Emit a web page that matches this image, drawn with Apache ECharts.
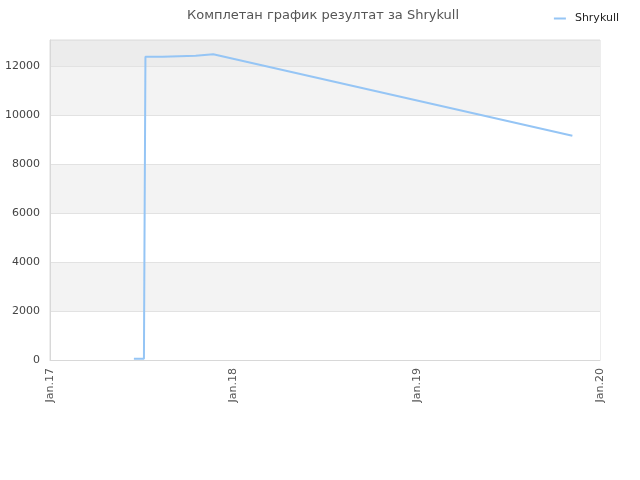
<!DOCTYPE html>
<html><head><meta charset="utf-8">
<script src="https://cdn.jsdelivr.net/npm/echarts@6/dist/echarts.min.js"></script>
<style>html,body{margin:0;padding:0;background:#fff}#c{width:640px;height:480px}</style>
</head><body><div id="c"></div>
<script>
const seriesName = 'Shrykull';
const dates = ['2017-06-17','2017-07-07','2017-07-08','2017-07-09','2017-07-10','2017-08-13','2017-08-14','2017-10-18','2017-10-19','2017-11-22','2019-11-07'];
const values = [50, 50, 4250, 4250, 12380, 12380, 12420, 12420, 12460, 12480, 9155];
const xTicks = ['2017-01-01','2018-01-01','2019-01-01','2020-01-01'];
const xTickLabels = ['Jan.17','Jan.18','Jan.19','Jan.20'];
const yTicks = [0,2000,4000,6000,8000,10000,12000];

const toT = d => new Date(d + 'T00:00:00Z').getTime();
const tickTimes = xTicks.map(toT);
const DAY = 86400000;
const chart = echarts.init(document.getElementById('c'));
chart.setOption({
  animation: false,
  title: {text: 'Комплетан график резултат за Shrykull', left: 318, top: 4, textAlign: 'center',
    textStyle: {fontSize: 13, fontWeight: 'normal', color: '#555', fontFamily: 'DejaVu Sans'}},
  legend: {right: 16, top: 8, itemWidth: 12, itemHeight: 2, itemGap: 5, icon: 'rect',
    textStyle: {fontSize: 11, color: '#222', fontFamily: 'DejaVu Sans', padding: [0, 0, 0, 4]}, data: [seriesName]},
  grid: {left: 50, right: 40, top: 40, bottom: 120, show: true, borderColor: '#dcdcdc', borderWidth: 1},
  xAxis: {type: 'value', min: tickTimes[0], max: tickTimes[3], interval: 365 * DAY,
    axisLine: {show: true, lineStyle: {color: '#d8d8d8'}}, axisTick: {show: false}, splitLine: {show: false},
    axisLabel: {rotate: 90, fontSize: 11, color: '#555', fontFamily: 'DejaVu Sans', margin: 8,
      showMinLabel: true, showMaxLabel: true,
      formatter: v => { let best = -1, bd = Infinity; tickTimes.forEach((t, i) => { const d = Math.abs(t - v); if (d < bd) { bd = d; best = i; } }); return bd < 2 * DAY ? xTickLabels[best] : ''; }}},
  yAxis: {type: 'value', min: 0, max: 13060, interval: 2000,
    axisLine: {show: true, lineStyle: {color: '#d8d8d8'}}, axisTick: {show: false},
    axisLabel: {fontSize: 11, color: '#444', fontFamily: 'DejaVu Sans', margin: 10, showMaxLabel: false,
      formatter: v => yTicks.includes(v) ? String(v) : ''},
    splitLine: {show: true, lineStyle: {color: '#e2e2e2'}},
    splitArea: {show: true, areaStyle: {color: ['#ffffff','#f3f3f3','#ffffff','#f3f3f3','#ffffff','#f3f3f3','#ececec']}}},
  series: [{name: seriesName, type: 'line', showSymbol: false, symbol: 'none',
    lineStyle: {color: '#95c5f5', width: 2}, itemStyle: {color: '#95c5f5'},
    data: dates.map((d, i) => [toT(d), values[i]])}]
});
</script></body></html>
